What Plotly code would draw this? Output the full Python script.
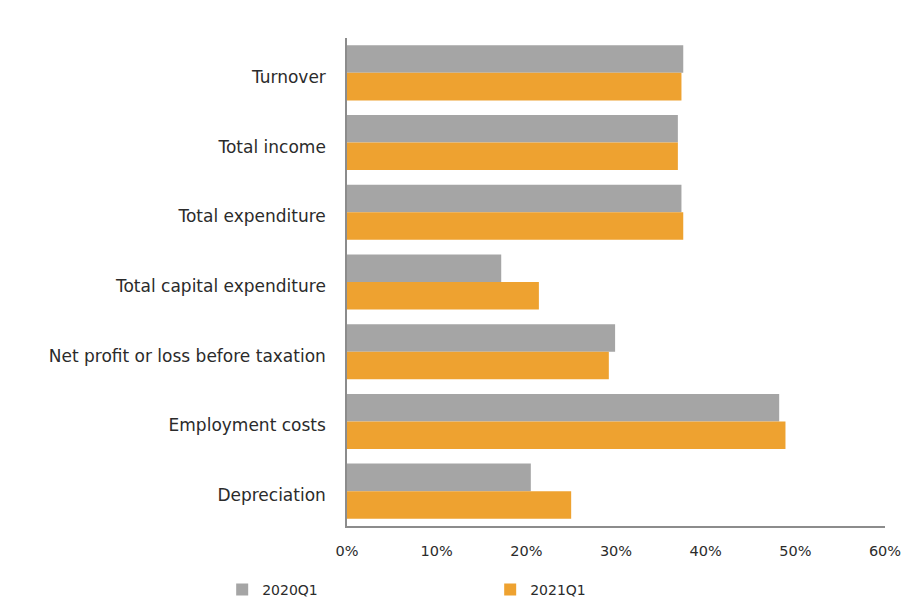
import plotly.graph_objects as go

categories = [
    "Turnover",
    "Total income",
    "Total expenditure",
    "Total capital expenditure",
    "Net profit or loss before taxation",
    "Employment costs",
    "Depreciation",
]
share_2020q1 = [37.5, 36.9, 37.3, 17.2, 29.9, 48.2, 20.5]
share_2021q1 = [37.3, 36.9, 37.5, 21.4, 29.2, 48.9, 25.0]
x_ticks = [0, 10, 20, 30, 40, 50, 60]
x_tick_labels = ["0%", "10%", "20%", "30%", "40%", "50%", "60%"]

GRAY = "#A5A5A5"
ORANGE = "#EEA230"
TEXT = "#2B2B2B"
FONT = "DejaVu Sans"

fig = go.Figure()
fig.add_trace(go.Bar(
    y=categories, x=share_2020q1, name="2020Q1", orientation="h",
    marker=dict(color=GRAY, line=dict(width=0)),
))
fig.add_trace(go.Bar(
    y=categories, x=share_2021q1, name="2021Q1", orientation="h",
    marker=dict(color=ORANGE, line=dict(width=0)),
))

fig.update_layout(
    width=911, height=612,
    margin=dict(l=347, r=26, t=38, b=86, autoexpand=False),
    paper_bgcolor="white", plot_bgcolor="white",
    barmode="group", bargap=0.21, bargroupgap=0,
    font=dict(family=FONT, size=16, color=TEXT),
    showlegend=True,
    legend=dict(
        orientation="h", x=-0.232, xanchor="left", y=-0.131, yanchor="middle",
        font=dict(family=FONT, size=14, color=TEXT),
        entrywidth=223, itemwidth=30, traceorder="normal",
    ),
    xaxis=dict(
        range=[0, 60], tickvals=x_ticks, ticktext=x_tick_labels,
        tickfont=dict(family=FONT, size=14.5, color=TEXT),
        showgrid=False, zeroline=False,
        showline=True, linecolor="#8C8C8C", linewidth=1.5,
        ticks="", ticklabelstandoff=11,
    ),
    yaxis=dict(
        autorange="reversed", showgrid=False, zeroline=False,
        tickfont=dict(family=FONT, size=17, color=TEXT),
        showline=True, linecolor="#8C8C8C", linewidth=1.5,
        ticks="", ticklabelstandoff=16, ticklabelshift=-4,
    ),
)

fig.write_html("out.html")
